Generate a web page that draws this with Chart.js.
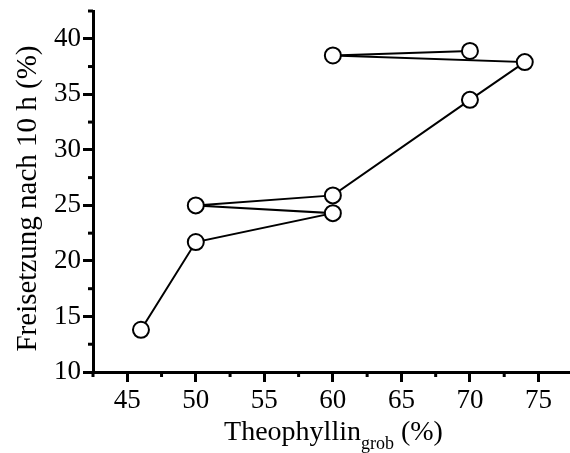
<!DOCTYPE html>
<html>
<head>
<meta charset="utf-8">
<script src="https://cdn.jsdelivr.net/npm/chart.js@4"></script>
<style>
  body { margin: 0; background: #fff; }
  #wrap { width: 570px; height: 453px; }
</style>
</head>
<body>
<div id="wrap"><canvas id="chart"></canvas></div>
<script>
// Data (in drawing order)
const theophyllin = [46, 50, 60, 50, 60, 70, 74, 60, 70];
const freisetzung = [13.8, 21.7, 24.3, 25.0, 25.9, 34.5, 37.9, 38.5, 38.9];

const xTitleMain = 'Theophyllin';
const xTitleSub = 'grob';
const xTitleEnd = ' (%)';
const yTitle = 'Freisetzung nach 10 h (%)';

const serif = '"Liberation Serif", "DejaVu Serif", serif';

const isMajor = (v) => Math.abs(v / 5 - Math.round(v / 5)) < 1e-6;

// Minor ticks (shorter) + axis titles (x title has a subscript)
const extrasPlugin = {
  id: 'extras',
  afterDraw(chart) {
    const ctx = chart.ctx;
    const area = chart.chartArea;
    const xs = chart.scales.x;
    const ys = chart.scales.y;
    ctx.save();
    ctx.strokeStyle = '#000';
    ctx.lineWidth = 3;
    xs.ticks.forEach(t => {
      if (isMajor(t.value)) return;
      const px = xs.getPixelForValue(t.value);
      ctx.beginPath();
      ctx.moveTo(px, area.bottom);
      ctx.lineTo(px, area.bottom + 5);
      ctx.stroke();
    });
    ys.ticks.forEach(t => {
      if (isMajor(t.value)) return;
      const py = ys.getPixelForValue(t.value);
      ctx.beginPath();
      ctx.moveTo(area.left, py);
      ctx.lineTo(area.left - 5, py);
      ctx.stroke();
    });

    ctx.fillStyle = '#000';

    // y title
    ctx.save();
    ctx.font = '29px ' + serif;
    ctx.textAlign = 'center';
    ctx.textBaseline = 'middle';
    ctx.translate(28, (area.top + area.bottom) / 2 + 7);
    ctx.rotate(-Math.PI / 2);
    ctx.fillText(yTitle, 0, 0);
    ctx.restore();

    // x title
    ctx.textBaseline = 'alphabetic';
    ctx.textAlign = 'left';
    const mainFont = '28px ' + serif;
    const subFont = '18px ' + serif;
    ctx.font = mainFont;
    const w1 = ctx.measureText(xTitleMain).width;
    const w3 = ctx.measureText(xTitleEnd).width;
    ctx.font = subFont;
    const w2 = ctx.measureText(xTitleSub).width;
    const total = w1 + w2 + w3;
    let x = (area.left + area.right) / 2 - total / 2 + 2;
    const base = area.bottom + 68;
    ctx.font = mainFont;
    ctx.fillText(xTitleMain, x, base);
    x += w1;
    ctx.font = subFont;
    ctx.fillText(xTitleSub, x, base + 9);
    x += w2;
    ctx.font = mainFont;
    ctx.fillText(xTitleEnd, x, base);
    ctx.restore();
  }
};

new Chart(document.getElementById('chart'), {
  type: 'scatter',
  data: {
    datasets: [{
      data: theophyllin.map((v, i) => ({ x: v, y: freisetzung[i] })),
      showLine: true,
      borderColor: '#000',
      borderWidth: 2,
      pointRadius: 8,
      pointBorderWidth: 2,
      pointBackgroundColor: '#fff',
      pointBorderColor: '#000',
      tension: 0,
      clip: false
    }]
  },
  options: {
    responsive: true,
    maintainAspectRatio: false,
    animation: false,
    layout: { autoPadding: false, padding: { top: 11, right: 0, left: 0, bottom: 0 } },
    plugins: {
      legend: { display: false },
      tooltip: { enabled: false }
    },
    scales: {
      x: {
        type: 'linear',
        min: 42.5,
        max: 77.3,
        afterFit: (s) => { s.height = 81; s.paddingLeft = 0; s.paddingRight = 0; },
        border: { color: '#000', width: 3 },
        grid: {
          drawOnChartArea: false,
          tickLength: 10,
          tickWidth: 3,
          tickColor: (c) => isMajor(c.tick.value) ? '#000' : 'rgba(0,0,0,0)'
        },
        ticks: {
          stepSize: 2.5,
          includeBounds: false,
          autoSkip: false,
          maxRotation: 0,
          color: '#000',
          padding: 3,
          font: { family: serif, size: 27 },
          callback: (v) => isMajor(v) ? String(v) : ''
        }
      },
      y: {
        type: 'linear',
        min: 10,
        max: 42.5,
        afterFit: (s) => { s.width = 93; s.paddingTop = 0; s.paddingBottom = 0; },
        border: { color: '#000', width: 3 },
        grid: {
          drawOnChartArea: false,
          tickLength: 10,
          tickWidth: 3,
          tickColor: (c) => isMajor(c.tick.value) ? '#000' : 'rgba(0,0,0,0)'
        },
        ticks: {
          stepSize: 2.5,
          includeBounds: false,
          autoSkip: false,
          color: '#000',
          padding: 2,
          font: { family: serif, size: 27 },
          callback: (v) => isMajor(v) ? String(v) : ''
        }
      }
    }
  },
  plugins: [extrasPlugin]
});
</script>
</body>
</html>
